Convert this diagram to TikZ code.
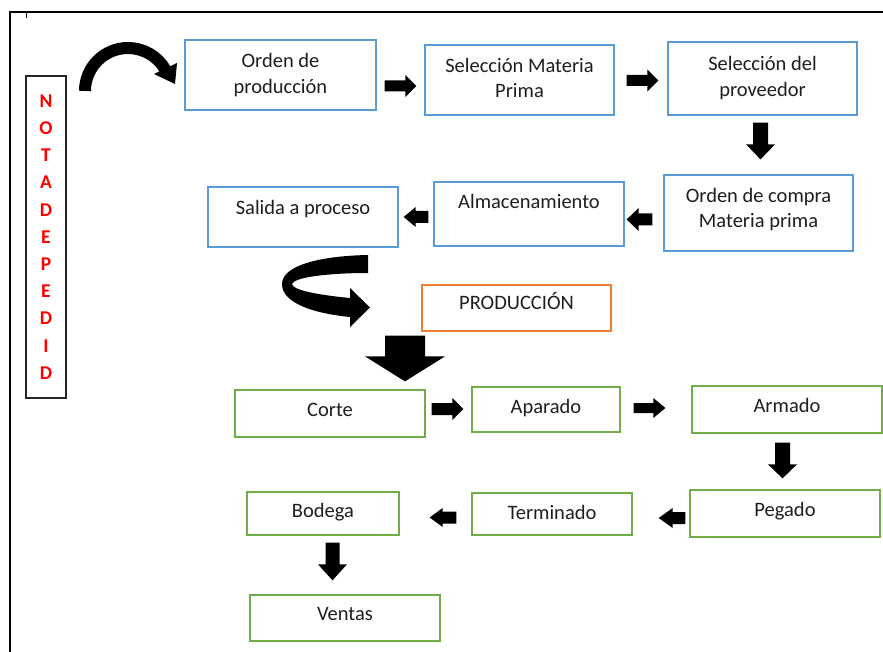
\documentclass[tikz,border=0pt]{standalone}
\usepackage{fontspec}
\setmainfont{Carlito}
\usetikzlibrary{calc}
\definecolor{bblue}{HTML}{5B9BD5}
\definecolor{bgreen}{HTML}{70AD47}
\definecolor{borange}{HTML}{ED7D31}
\definecolor{txtc}{HTML}{1E1E1E}
\newcommand\blockarrow[5]{%
  \coordinate (baA) at #1;
  \coordinate (baB) at #2;
  \coordinate (baH) at ($(baB)!#5pt!(baA)$);
  \fill[black] ($(baA)!#3pt!90:(baB)$) -- ($(baH)!#3pt!-90:(baA)$) -- ($(baH)!#4pt!-90:(baA)$) -- (baB)
     -- ($(baH)!#4pt!90:(baA)$) -- ($(baH)!#3pt!90:(baA)$) -- ($(baA)!#3pt!-90:(baB)$) -- cycle;
}
\begin{document}
\begin{tikzpicture}[x=1pt,y=-1pt,
  bx/.style={draw=#1, line width=1.3pt, inner sep=0pt},
  txt/.style={text=txtc, align=center, font=\fontsize{20.5}{25.5}\selectfont, inner sep=0pt},
]
\useasboundingbox (0,0) rectangle (883,652);
% frame
\draw[line width=2pt] (883,12.5) -- (10,12.5) -- (10,652);
\draw[line width=0.8pt] (26,12.5) -- (26,18);
% nota de pedido
\node[draw=black!85, line width=1.2pt, minimum width=40, minimum height=322, inner sep=0pt,
  align=center, text=red, font=\bfseries\fontsize{19.5}{27.2}\selectfont] (nota) at (46,237)
  {N\\O\\T\\A\\D\\E\\P\\E\\D\\I\\D};
% boxes
\node[bx=bblue, minimum width=191, minimum height=70] (op) at (280.5,75) {};
\node[bx=bblue, minimum width=189, minimum height=70] (smp) at (519.5,80) {};
\node[bx=bblue, minimum width=189, minimum height=73] (sprov) at (762.5,78.5) {};
\node[bx=bblue, minimum width=189, minimum height=76] (oc) at (758.5,213) {};
\node[bx=bblue, minimum width=190, minimum height=64] (alm) at (529,214) {};
\node[bx=bblue, minimum width=190, minimum height=60] (sal) at (303,217) {};
\node[bx=borange, minimum width=189, minimum height=46] (prod) at (516.5,308) {};
\node[bx=bgreen, minimum width=190, minimum height=47] (corte) at (330,413.5) {};
\node[bx=bgreen, minimum width=148, minimum height=45] (apar) at (546,409.5) {};
\node[bx=bgreen, minimum width=190, minimum height=47] (arm) at (787,409.5) {};
\node[bx=bgreen, minimum width=190, minimum height=47] (peg) at (785,513.5) {};
\node[bx=bgreen, minimum width=160, minimum height=42] (term) at (552,514) {};
\node[bx=bgreen, minimum width=152, minimum height=43] (bod) at (323,513.5) {};
\node[bx=bgreen, minimum width=190, minimum height=46] (vent) at (345,618) {};
% texts
\node[txt] at ([yshift=0pt]op.center) {Orden de\\producción};
\node[txt] at ([yshift=2pt]smp.center) {Selección Materia\\Prima};
\node[txt] at ([yshift=0.5pt]sprov.center) {Selección del\\proveedor};
\node[txt] at ([yshift=3.5pt]oc.center) {Orden de compra\\Materia prima};
\node[txt] at ([yshift=13pt]alm.center) {Almacenamiento};
\node[txt] at ([yshift=7.5pt]sal.center) {Salida a proceso};
\node[txt] at ([yshift=6.5pt]prod.center) {PRODUCCIÓN};
\node[txt] at ([yshift=3.5pt]corte.center) {Corte};
\node[txt] at ([yshift=1.5pt]apar.center) {Aparado};
\node[txt] at ([yshift=4.5pt]arm.center) {Armado};
\node[txt] at ([yshift=2pt]peg.center) {Pegado};
\node[txt] at ([yshift=2pt]term.center) {Terminado};
\node[txt] at ([yshift=1pt]bod.center) {Bodega};
\node[txt] at ([yshift=4pt]vent.center) {Ventas};
% block arrows
\blockarrow{($(op.east)+(8,11)$)}{($(smp.west)+(-8,6)$)}{5.5}{11}{11}
\blockarrow{($(smp.east)+(12,0.5)$)}{($(sprov.west)+(-9,2)$)}{5.5}{11}{11}
\blockarrow{($(sprov.south)+(-2,7)$)}{($(oc.north)+(2,-15)$)}{7.5}{14.5}{15}
\blockarrow{($(oc.west)+(-11,6.5)$)}{($(alm.east)+(2,5.5)$)}{6}{11.5}{12}
\blockarrow{($(alm.west)+(-5,3)$)}{($(sal.east)+(5,0)$)}{6}{10}{12}
\blockarrow{($(prod.south)+(-111.5,4)$)}{($(corte.north)+(75,-8)$)}{20}{40}{25}
\blockarrow{($(corte.east)+(6,-4.5)$)}{($(apar.west)+(-8,-0.5)$)}{6}{11}{11}
\blockarrow{($(apar.east)+(13,-1.5)$)}{($(arm.west)+(-26,-1.5)$)}{5}{10}{12}
\blockarrow{($(arm.south)+(-4.5,9)$)}{($(peg.north)+(-2.5,-11)$)}{7.5}{14.5}{14}
\blockarrow{($(peg.west)+(-4,4.5)$)}{($(term.east)+(26,4)$)}{6}{10}{14}
\blockarrow{($(term.west)+(-15,3.5)$)}{($(bod.east)+(30,4)$)}{6}{9.5}{13}
\blockarrow{($(bod.south)+(9.5,7)$)}{($(vent.north)+(-12.5,-14)$)}{7}{14.5}{16}
% curved arrow 1 (nota -> orden de produccion)
\draw[line width=12pt] (85,91) arc[start angle=180, end angle=330, x radius=43, y radius=43];
\fill (177,63) -- (175,84) -- (154,74) -- cycle;
% curved arrow 2 (salida -> produccion)
\fill (368,255) .. controls (318,256) and (282,266) .. (282,284)
  .. controls (282,302) and (310,313) .. (350,317)
  -- (350,327) -- (370,307.5) -- (350,288) -- (350,298)
  .. controls (318,295) and (292,290) .. (292,284)
  .. controls (294,277) and (330,273) .. (368,273) -- cycle;
\end{tikzpicture}
\end{document}
